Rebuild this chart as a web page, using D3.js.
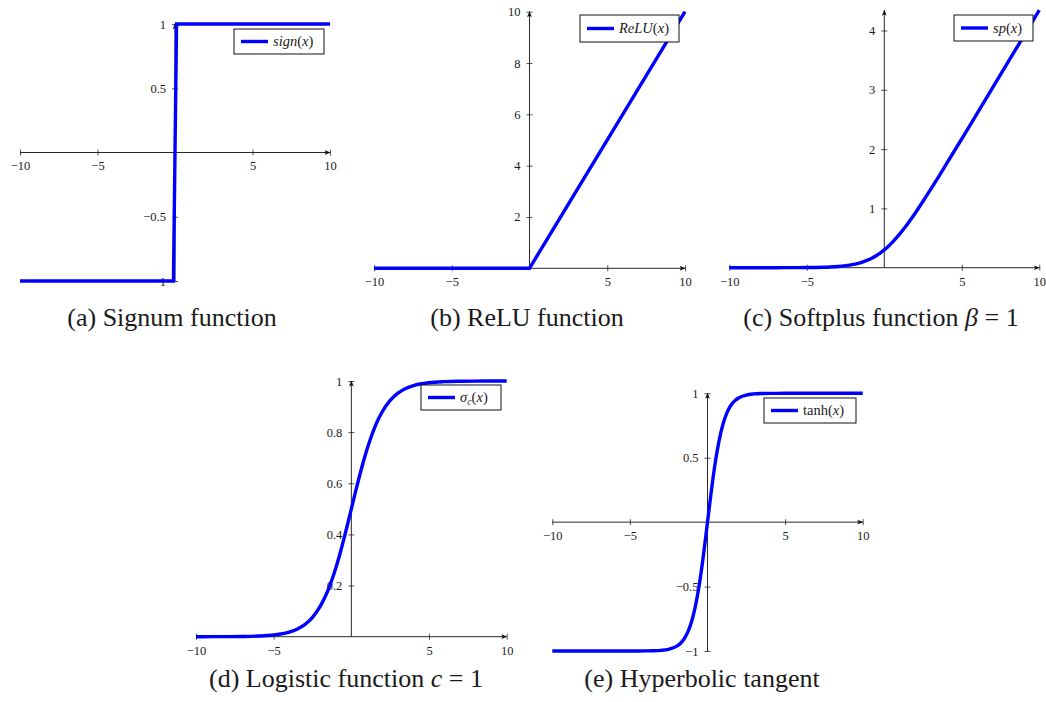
<!DOCTYPE html>
<html>
<head>
<meta charset="utf-8">
<script src="https://cdn.jsdelivr.net/npm/d3@7"></script>
<style>
    body { margin: 0; background: #fff; }
    svg { display: block; }
    text { font-family: "Liberation Serif", "Times New Roman", serif; fill: #1a1a1a; }
</style>
</head>
<body>
<div id="chart"></div>
<script>
// sample points along x (shared by the smooth curves)
const xSamples = [-10, -9, -8, -7, -6, -5, -4, -3.5, -3, -2.5, -2, -1.75, -1.5, -1.25, -1, -0.75, -0.5, -0.25,
    0, 0.25, 0.5, 0.75, 1, 1.25, 1.5, 1.75, 2, 2.5, 3, 3.5, 4, 5, 6, 7, 8, 9, 10];

const signX = [-10, -0.1, 0.1, 10];
const signY = [-1, -1, 1, 1];

const reluX = [-10, 0, 10];
const reluY = [0, 0, 10];

const softplusY = [0.00002, 0.00005, 0.00015, 0.0004, 0.0011, 0.0029, 0.0079, 0.0129, 0.0211, 0.0342, 0.0551,
    0.0696, 0.0875, 0.1094, 0.1360, 0.1680, 0.2059, 0.2501, 0.3010, 0.3587, 0.4230, 0.4937, 0.5703, 0.6523,
    0.7389, 0.8296, 0.9237, 1.1200, 1.3240, 1.5330, 1.7451, 2.1744, 2.6068, 3.0405, 3.4745, 3.9087, 4.3429];

const logisticY = [0.00005, 0.00012, 0.00034, 0.00091, 0.0025, 0.0067, 0.0180, 0.0293, 0.0474, 0.0759, 0.1192,
    0.1480, 0.1824, 0.2227, 0.2689, 0.3208, 0.3775, 0.4378, 0.5, 0.5622, 0.6225, 0.6792, 0.7311, 0.7773,
    0.8176, 0.8520, 0.8808, 0.9241, 0.9526, 0.9707, 0.9820, 0.9933, 0.9975, 0.9991, 0.9997, 0.9999, 1.0];

const tanhY = [-1.0, -1.0, -1.0, -1.0, -1.0, -0.9999, -0.9993, -0.9982, -0.9951, -0.9866, -0.9640,
    -0.9414, -0.9051, -0.8483, -0.7616, -0.6351, -0.4621, -0.2449, 0, 0.2449, 0.4621, 0.6351, 0.7616, 0.8483,
    0.9051, 0.9414, 0.9640, 0.9866, 0.9951, 0.9982, 0.9993, 0.9999, 1.0, 1.0, 1.0, 1.0, 1.0];

// tick labels
const xTicks = [-10, -5, 5, 10];
const signTicks = [-1, -0.5, 0.5, 1];
const reluTicks = [2, 4, 6, 8, 10];
const softplusTicks = [1, 2, 3, 4];
const logisticTicks = [0.2, 0.4, 0.6, 0.8, 1];
const tanhTicks = [-1, -0.5, 0.5, 1];

const blue = "#0000ff";

const svg = d3.select("#chart")
    .append("svg")
    .attr("width", 1046)
    .attr("height", 702);

svg.append("defs").append("marker")
    .attr("id", "arrow")
    .attr("viewBox", "0 0 6 6")
    .attr("refX", 5.5)
    .attr("refY", 3)
    .attr("markerWidth", 6)
    .attr("markerHeight", 6)
    .attr("markerUnits", "userSpaceOnUse")
    .attr("orient", "auto")
    .append("path")
    .attr("d", "M0,0.6 L6,3 L0,5.4 L1.5,3 Z")
    .attr("fill", "#111");

const fmt = d => String(d).replace("-", "\u2212");

function drawPanel(p) {
    let x = d3.scaleLinear().domain([-10, 10]).range([p.x0, p.x1]);
    let y = d3.scaleLinear().domain(p.yDomain).range([p.yBottom, p.yTop]);

    let g = svg.append("g");

    // x axis through y = 0
    let xa = g.append("g")
        .attr("transform", `translate(0, ${y(0)})`)
        .attr("font-size", null)
        .call(d3.axisBottom(x).tickValues(xTicks).tickSize(3).tickFormat(fmt));
    xa.select(".domain").remove();
    xa.selectAll(".tick line").attr("y1", -3).attr("y2", 3).attr("stroke", "#555");
    xa.selectAll(".tick text").attr("y", 9).style("font-size", "12.5px");

    // y axis through x = 0
    let ya = g.append("g")
        .attr("transform", `translate(${x(0)}, 0)`)
        .call(d3.axisLeft(y).tickValues(p.yTicks).tickSize(3).tickFormat(fmt));
    ya.select(".domain").remove();
    ya.selectAll(".tick line").attr("x1", -3).attr("x2", 3).attr("stroke", "#555");
    ya.selectAll(".tick text").attr("x", -9).style("font-size", "12.5px");

    g.append("line")
        .attr("x1", x(-10)).attr("x2", x(10))
        .attr("y1", y(0)).attr("y2", y(0))
        .attr("stroke", "#111").attr("stroke-width", 0.9)
        .attr("marker-end", "url(#arrow)");

    g.append("line")
        .attr("x1", x(0)).attr("x2", x(0))
        .attr("y1", y(p.yDomain[0])).attr("y2", y(p.yDomain[1]))
        .attr("stroke", "#111").attr("stroke-width", 0.9)
        .attr("marker-end", "url(#arrow)");

    // the function
    let pts = p.xs.map((d, i) => [d, p.ys[i]]);
    let line = d3.line()
        .x(d => x(d[0]))
        .y(d => y(d[1]))
        .curve(p.smooth ? d3.curveMonotoneX : d3.curveLinear);

    g.append("path")
        .datum(pts)
        .attr("d", line)
        .attr("fill", "none")
        .attr("stroke", blue)
        .attr("stroke-width", 3.4);

    // legend
    let L = p.legend;
    g.append("rect")
        .attr("x", L.x).attr("y", L.y)
        .attr("width", L.w).attr("height", L.h)
        .attr("fill", "#fff").attr("stroke", "#111").attr("stroke-width", 1);
    g.append("line")
        .attr("x1", L.x + 7).attr("x2", L.x + 34)
        .attr("y1", L.y + L.h / 2).attr("y2", L.y + L.h / 2)
        .attr("stroke", blue).attr("stroke-width", 3.4);
    let t = g.append("text")
        .attr("x", L.x + 39)
        .attr("y", L.y + L.h / 2 + 4.5)
        .style("font-size", "14.5px");
    L.parts.forEach(part => {
        let s = t.append("tspan").text(part.t);
        if (part.i) s.attr("font-style", "italic");
        if (part.sub) s.style("font-size", "10px").attr("dy", 3);
        if (part.up) s.attr("dy", -3);
    });

    // caption
    let c = svg.append("text")
        .attr("x", p.capX)
        .attr("y", p.capY)
        .attr("text-anchor", "middle")
        .style("font-size", "26px");
    p.caption.forEach(part => {
        let s = c.append("tspan").text(part.t);
        if (part.i) s.attr("font-style", "italic");
    });
}

const panels = [
    {
        x0: 20, x1: 330, yDomain: [-1, 1], yBottom: 281, yTop: 24, yTicks: signTicks,
        xs: signX, ys: signY, smooth: false,
        legend: {x: 234, y: 29, w: 90, h: 25, parts: [{t: "sign", i: true}, {t: "("}, {t: "x", i: true}, {t: ")"}]},
        caption: [{t: "(a) Signum function"}], capX: 172, capY: 326
    },
    {
        x0: 374, x1: 685, yDomain: [0, 10], yBottom: 268.3, yTop: 11.7, yTicks: reluTicks,
        xs: reluX, ys: reluY, smooth: false,
        legend: {x: 580, y: 15, w: 99, h: 27, parts: [{t: "ReLU", i: true}, {t: "("}, {t: "x", i: true}, {t: ")"}]},
        caption: [{t: "(b) ReLU function"}], capX: 527, capY: 326
    },
    {
        x0: 729.3, x1: 1039.3, yDomain: [0, 4.3429], yBottom: 267.7, yTop: 10.2, yTicks: softplusTicks,
        xs: xSamples, ys: softplusY, smooth: true,
        legend: {x: 954, y: 15, w: 79, h: 26, parts: [{t: "sp", i: true}, {t: "("}, {t: "x", i: true}, {t: ")"}]},
        caption: [{t: "(c) Softplus function "}, {t: "\u03b2", i: true}, {t: " = 1"}], capX: 881, capY: 326
    },
    {
        x0: 196, x1: 506.7, yDomain: [0, 1], yBottom: 636.7, yTop: 381, yTicks: logisticTicks,
        xs: xSamples, ys: logisticY, smooth: true,
        legend: {x: 421, y: 385, w: 80, h: 25, parts: [{t: "\u03c3", i: true}, {t: "c", i: true, sub: true}, {t: "(", up: true}, {t: "x", i: true}, {t: ")"}]},
        caption: [{t: "(d) Logistic function "}, {t: "c", i: true}, {t: " = 1"}], capX: 346, capY: 687
    },
    {
        x0: 552.3, x1: 862.7, yDomain: [-1, 1], yBottom: 651, yTop: 393.3, yTicks: tanhTicks,
        xs: xSamples, ys: tanhY, smooth: true,
        legend: {x: 764, y: 398, w: 92, h: 25, parts: [{t: "tanh("}, {t: "x", i: true}, {t: ")"}]},
        caption: [{t: "(e) Hyperbolic tangent"}], capX: 702, capY: 687
    }
];

panels.forEach(drawPanel);
</script>
</body>
</html>
